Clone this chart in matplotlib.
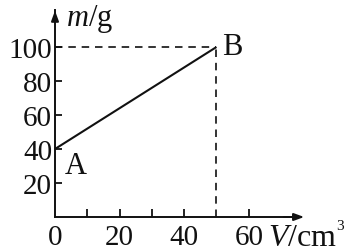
import matplotlib.pyplot as plt

# data
volume = [0, 50]          # V / cm^3
mass = [40, 100]          # m / g
point_names = ["A", "B"]
x_major = [20, 40, 60]
x_minor = [10, 30]
y_ticks = [20, 40, 60, 80, 100]

plt.rcParams['font.family'] = ['Liberation Serif', 'DejaVu Serif']
plt.rcParams['mathtext.fontset'] = 'custom'
plt.rcParams['mathtext.it'] = 'Liberation Serif:italic'
plt.rcParams['mathtext.rm'] = 'Liberation Serif'

ink = "#111111"
fig = plt.figure(figsize=(3.57, 2.53), dpi=100)
ax = fig.add_axes([0, 0, 1, 1])
# pixel mapping: origin at (55, 218), 3.23 px per cm^3, 1.70 px per g
ax.set_xlim(-55 / 3.23, (357 - 55) / 3.23)
ax.set_ylim(-(253 - 218) / 1.70, 218 / 1.70)

for s in ["top", "right"]:
    ax.spines[s].set_visible(False)
ax.spines["left"].set_position(("data", 0))
ax.spines["bottom"].set_position(("data", 0))
ax.spines["left"].set_bounds(0, 122)
ax.spines["bottom"].set_bounds(0, 76)
for s in ["left", "bottom"]:
    ax.spines[s].set_linewidth(1.4)
    ax.spines[s].set_color(ink)

# axis arrows
arrow = dict(arrowstyle="-|>,head_length=0.6,head_width=0.22", color=ink, lw=1.4)
ax.annotate("", xy=(78, 0), xytext=(70, 0), arrowprops=arrow)
ax.annotate("", xy=(0, 123), xytext=(0, 115), arrowprops=arrow)

ax.set_xticks(x_major)
ax.set_xticklabels([str(v) for v in x_major])
ax.set_xticks(x_minor, minor=True)
ax.set_yticks(y_ticks)
ax.set_yticklabels([str(v) for v in y_ticks])
ax.tick_params(axis="x", which="both", direction="in", length=6, width=1.3,
               pad=5, labelsize=21, colors=ink)
ax.tick_params(axis="y", direction="in", length=5, width=1.3,
               pad=2, labelsize=21, colors=ink)
ax.text(0, -4.0, "0", ha="center", va="top", fontsize=21, color=ink)

# dashed guides to B
ax.plot([0, volume[1]], [mass[1], mass[1]], ls=(0, (4.5, 3.5)), color=ink, lw=1.2)
ax.plot([volume[1], volume[1]], [0, mass[1]], ls=(0, (4.5, 3.5)), color=ink, lw=1.2)

# the line A-B
ax.plot(volume, mass, color=ink, lw=1.5, solid_capstyle="butt")

ax.text(volume[0] + 3, mass[0] - 1, point_names[0], ha="left", va="top",
        fontsize=22, color=ink)
ax.text(volume[1] + 1.8, mass[1] + 0.5, point_names[1], ha="left", va="center",
        fontsize=22, color=ink)

ax.text(3.5, 113, r"$m$/g", ha="left", va="baseline", fontsize=22, color=ink)
ax.text(65.8, -16.5, r"$V$/cm", ha="left", va="baseline", fontsize=23,
        color=ink)
ax.text(87.0, -7.0, "3", ha="left", va="baseline", fontsize=11, color=ink)

fig.savefig("out.png", dpi=100)
